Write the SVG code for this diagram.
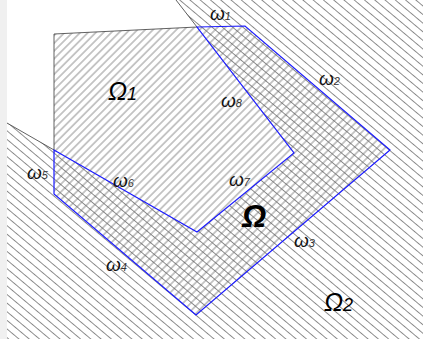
<svg xmlns="http://www.w3.org/2000/svg" width="423" height="339" viewBox="0 0 423 339">
  <defs>
    <pattern id="hatchFwd" patternUnits="userSpaceOnUse" width="12" height="5.5" patternTransform="rotate(-45)">
      <line x1="0" y1="2.75" x2="12" y2="2.75" stroke="#666" stroke-width="0.75"/>
    </pattern>
    <pattern id="hatchBack" patternUnits="userSpaceOnUse" width="12" height="6.6" patternTransform="rotate(40)">
      <line x1="0" y1="3.3" x2="12" y2="3.3" stroke="#666" stroke-width="0.75"/>
    </pattern>
  </defs>
  <style>
    .thin { fill: none; stroke: #3a3a3a; stroke-width: 0.8; }
    .blue { fill: none; stroke: #1a1aff; stroke-width: 1.2; stroke-linejoin: miter; }
    .big { font-family: "Liberation Sans", Arial, sans-serif; font-style: italic; fill: #000; }
    .w { font-family: "Liberation Sans", Arial, sans-serif; font-style: italic; font-size: 19px; fill: #111; }
    .sub { font-size: 11px; fill: #333; }
  </style>
  <rect x="0" y="0" width="423" height="339" fill="#ffffff"/>
  <rect x="0" y="0" width="7" height="339" fill="#f0f0f0"/>

  <g id="omega2">
    <polygon points="176,0 294,153 197,232 7,123 7,339 423,339 423,0" fill="url(#hatchBack)"/>
    <text class="big" x="324" y="311" font-size="25">Ω<tspan font-size="18">2</tspan></text>
  </g>

  <g id="omega1">
    <polygon points="54,34 197,27 245,26 390,150 196,315 54,194" fill="url(#hatchFwd)"/>
    <text class="big" x="108" y="100" font-size="25">Ω<tspan font-size="18">1</tspan></text>
  </g>

  <g id="omega">
    <text class="big" x="242" y="227" font-size="31" font-weight="bold">Ω</text>
  </g>

  <g id="connectors">
    <polyline class="thin" points="7,123 54,150 54,34 197,27 176,0"/>
    <polygon class="blue" points="197,27 245,26 390,150 196,315 54,194 54,150 197,232 294,153"/>
  </g>

  <g id="labels">
    <text class="w" x="210" y="20">ω<tspan class="sub">1</tspan></text>
    <text class="w" x="319" y="85">ω<tspan class="sub">2</tspan></text>
    <text class="w" x="294" y="247">ω<tspan class="sub">3</tspan></text>
    <text class="w" x="106" y="271">ω<tspan class="sub">4</tspan></text>
    <text class="w" x="27" y="179">ω<tspan class="sub">5</tspan></text>
    <text class="w" x="113" y="187">ω<tspan class="sub">6</tspan></text>
    <text class="w" x="229" y="186">ω<tspan class="sub">7</tspan></text>
    <text class="w" x="221" y="107">ω<tspan class="sub">8</tspan></text>
  </g>
</svg>
